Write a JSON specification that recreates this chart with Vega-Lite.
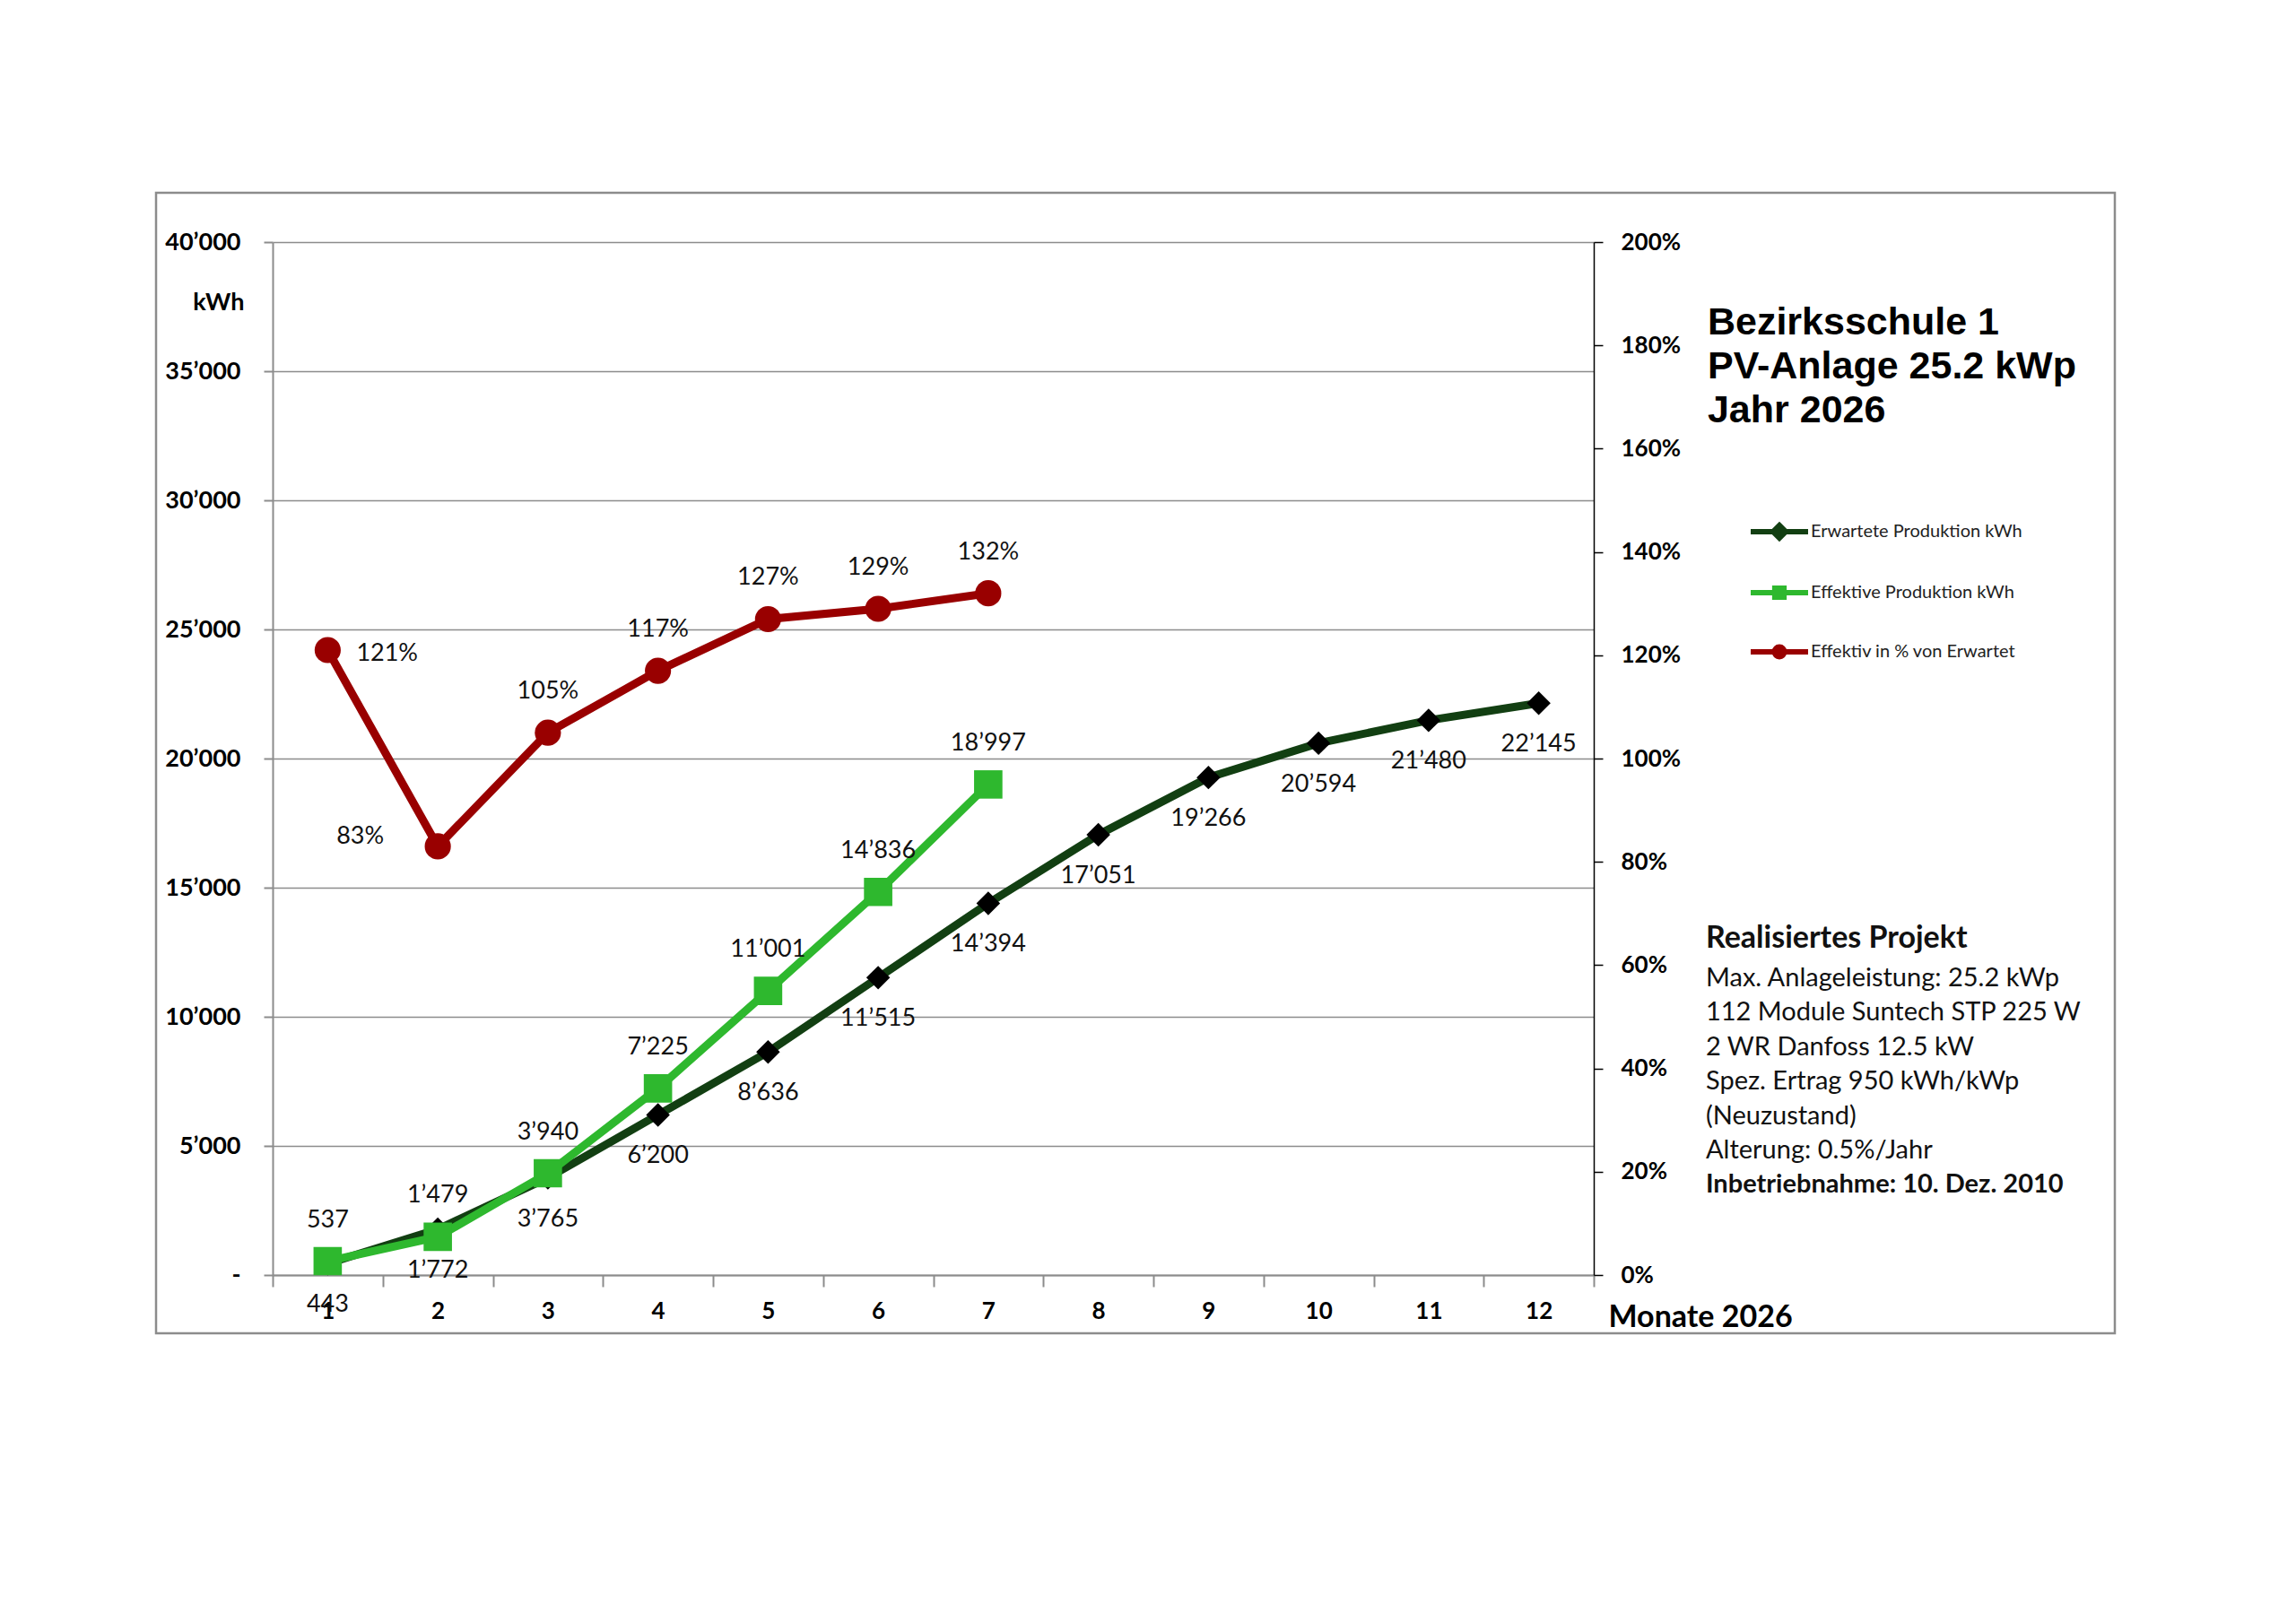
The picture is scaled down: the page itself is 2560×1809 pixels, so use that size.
{
  "$schema": "https://vega.github.io/schema/vega-lite/v6.json",
  "width": 1473,
  "height": 1152,
  "autosize": "none",
  "padding": {"left": 304, "top": 270, "right": 783, "bottom": 387},
  "background": "white",
  "config": {
    "view": {"stroke": null},
    "font": "Lato",
    "locale": {"number": {"decimal": ".", "thousands": "’", "grouping": [3], "currency": ["", ""]}}
  },
  "layer": [
    {
      "data": {"values": [{"frame": "chart"}]},
      "encoding": {
        "x": {"datum": 0, "type": "quantitative", "scale": {"domain": [0, 1], "range": [-130, 2054], "zero": false, "nice": false}, "axis": null},
        "y": {"datum": 0, "type": "quantitative", "scale": {"domain": [0, 1], "range": [-55, 1217], "zero": false, "nice": false}, "axis": null}
      },
      "layer": [
        {
          "mark": {"type": "rect", "filled": false, "color": "#8c8c8c", "strokeWidth": 2.5},
          "encoding": {"x2": {"datum": 1}, "y2": {"datum": 1}}
        },
        {
          "mark": {"type": "text", "align": "left", "baseline": "alphabetic", "font": "Liberation Sans", "fontWeight": "bold", "fontSize": 43, "lineHeight": 49, "color": "black"},
          "encoding": {
            "x": {"datum": 0.7921, "type": "quantitative"},
            "y": {"datum": 0.1242, "type": "quantitative"},
            "text": {"value": ["Bezirksschule 1", "PV-Anlage 25.2 kWp", "Jahr 2026"]}
          }
        },
        {
          "mark": {"type": "text", "align": "left", "baseline": "alphabetic", "fontWeight": "bold", "fontSize": 34, "color": "#111"},
          "encoding": {
            "x": {"datum": 0.7912, "type": "quantitative"},
            "y": {"datum": 0.6619, "type": "quantitative"},
            "text": {"value": "Realisiertes Projekt"}
          }
        },
        {
          "mark": {"type": "text", "align": "left", "baseline": "alphabetic", "fontSize": 29, "lineHeight": 38.4, "color": "#111"},
          "encoding": {
            "x": {"datum": 0.7912, "type": "quantitative"},
            "y": {"datum": 0.6958, "type": "quantitative"},
            "text": {"value": ["Max. Anlageleistung: 25.2 kWp", "112 Module Suntech STP 225 W", "2 WR Danfoss 12.5 kW", "Spez. Ertrag 950 kWh/kWp", "(Neuzustand)", "Alterung: 0.5%/Jahr"]}
          }
        },
        {
          "mark": {"type": "text", "align": "left", "baseline": "alphabetic", "fontWeight": "bold", "fontSize": 29, "color": "#111"},
          "encoding": {
            "x": {"datum": 0.7912, "type": "quantitative"},
            "y": {"datum": 0.8766, "type": "quantitative"},
            "text": {"value": "Inbetriebnahme: 10. Dez. 2010"}
          }
        }
      ]
    },
    {
      "data": {
        "values": [
          {"month": "1", "series": "Erwartete Produktion kWh", "kwh": 443},
          {"month": "2", "series": "Erwartete Produktion kWh", "kwh": 1772},
          {"month": "3", "series": "Erwartete Produktion kWh", "kwh": 3765},
          {"month": "4", "series": "Erwartete Produktion kWh", "kwh": 6200},
          {"month": "5", "series": "Erwartete Produktion kWh", "kwh": 8636},
          {"month": "6", "series": "Erwartete Produktion kWh", "kwh": 11515},
          {"month": "7", "series": "Erwartete Produktion kWh", "kwh": 14394},
          {"month": "8", "series": "Erwartete Produktion kWh", "kwh": 17051},
          {"month": "9", "series": "Erwartete Produktion kWh", "kwh": 19266},
          {"month": "10", "series": "Erwartete Produktion kWh", "kwh": 20594},
          {"month": "11", "series": "Erwartete Produktion kWh", "kwh": 21480},
          {"month": "12", "series": "Erwartete Produktion kWh", "kwh": 22145},
          {"month": "1", "series": "Effektive Produktion kWh", "kwh": 537},
          {"month": "2", "series": "Effektive Produktion kWh", "kwh": 1479},
          {"month": "3", "series": "Effektive Produktion kWh", "kwh": 3940},
          {"month": "4", "series": "Effektive Produktion kWh", "kwh": 7225},
          {"month": "5", "series": "Effektive Produktion kWh", "kwh": 11001},
          {"month": "6", "series": "Effektive Produktion kWh", "kwh": 14836},
          {"month": "7", "series": "Effektive Produktion kWh", "kwh": 18997},
          {"month": "1", "series": "Effektiv in % von Erwartet", "pct": 1.21},
          {"month": "2", "series": "Effektiv in % von Erwartet", "pct": 0.83},
          {"month": "3", "series": "Effektiv in % von Erwartet", "pct": 1.05},
          {"month": "4", "series": "Effektiv in % von Erwartet", "pct": 1.17},
          {"month": "5", "series": "Effektiv in % von Erwartet", "pct": 1.27},
          {"month": "6", "series": "Effektiv in % von Erwartet", "pct": 1.29},
          {"month": "7", "series": "Effektiv in % von Erwartet", "pct": 1.32}
        ]
      },
      "encoding": {
        "x": {
          "field": "month",
          "type": "ordinal",
          "bandPosition": 0.5,
          "scale": {"type": "band", "domain": ["1", "2", "3", "4", "5", "6", "7", "8", "9", "10", "11", "12"], "paddingInner": 0, "paddingOuter": 0},
          "axis": {
            "orient": "bottom",
            "tickBand": "extent",
            "grid": false,
            "domainColor": "#8c8c8c",
            "domainWidth": 2,
            "tickColor": "#8c8c8c",
            "tickWidth": 2,
            "tickSize": 13,
            "labelAngle": 0,
            "labelPadding": 14,
            "labelFont": "Lato",
            "labelFontSize": 26,
            "labelFontWeight": "bold",
            "labelColor": "black",
            "title": "Monate 2026",
            "titleX": 1489,
            "titleY": 57,
            "titleAlign": "left",
            "titleBaseline": "alphabetic",
            "titleFont": "Lato",
            "titleFontSize": 34,
            "titleFontWeight": "bold",
            "titleColor": "black"
          }
        }
      },
      "layer": [
        {
          "transform": [{"filter": "isValid(datum.kwh)"}],
          "encoding": {
            "y": {
              "field": "kwh",
              "type": "quantitative",
              "scale": {"domain": [0, 40000], "nice": false},
              "axis": {
                "orient": "left",
                "values": [0, 5000, 10000, 15000, 20000, 25000, 30000, 35000, 40000],
                "format": ",d",
                "labelExpr": "datum.value == 0 ? '-\u2007\u2007' : datum.label",
                "grid": true,
                "gridColor": "#8c8c8c",
                "gridWidth": 1.5,
                "domainColor": "#8c8c8c",
                "domainWidth": 2,
                "tickColor": "#8c8c8c",
                "tickWidth": 2,
                "tickSize": 10,
                "labelPadding": 26,
                "labelFont": "Lato",
                "labelFontSize": 27,
                "labelFontWeight": "bold",
                "labelColor": "black",
                "title": "kWh",
                "titleAngle": 0,
                "titleX": -32,
                "titleY": 67,
                "titleAlign": "right",
                "titleBaseline": "middle",
                "titleFont": "Lato",
                "titleFontSize": 27,
                "titleFontWeight": "bold",
                "titleColor": "black"
              }
            }
          },
          "layer": [
            {
              "transform": [{"filter": "datum.series == 'Erwartete Produktion kWh'"}],
              "mark": {"type": "line", "strokeWidth": 9},
              "encoding": {
                "color": {
                  "field": "series",
                  "type": "nominal",
                  "scale": {"domain": ["Erwartete Produktion kWh", "Effektive Produktion kWh", "Effektiv in % von Erwartet"], "range": ["#123f12", "#2eb82e", "#990000"]},
                  "legend": {
                    "orient": "none",
                    "legendX": 1645,
                    "legendY": 288,
                    "title": null,
                    "direction": "vertical",
                    "padding": 0,
                    "symbolSize": 4096,
                    "symbolStrokeWidth": 6,
                    "labelFont": "Lato",
                    "labelFontSize": 20,
                    "labelColor": "#222",
                    "labelOffset": 0,
                    "labelLimit": 500,
                    "rowPadding": 13,
                    "encode": {
                      "symbols": {
                        "update": {
                          "shape": {"signal": "datum.value === 'Erwartete Produktion kWh' ? 'M-1,0L1,0M0,-0.22L0.22,0L0,0.22L-0.22,0Z' : datum.value === 'Effektive Produktion kWh' ? 'M-1,0L1,0M-0.16,-0.16L0.16,-0.16L0.16,0.16L-0.16,0.16Z' : 'M-1,0L1,0M-0.17,0A0.17,0.17 0 1,0 0.17,0A0.17,0.17 0 1,0 -0.17,0Z'"},
                          "stroke": {"signal": "datum.value === 'Erwartete Produktion kWh' ? '#123f12' : datum.value === 'Effektive Produktion kWh' ? '#2eb82e' : '#990000'"},
                          "fill": {"signal": "datum.value === 'Erwartete Produktion kWh' ? '#123f12' : datum.value === 'Effektive Produktion kWh' ? '#2eb82e' : '#990000'"},
                          "strokeWidth": {"value": 6},
                          "opacity": {"value": 1}
                        }
                      }
                    }
                  }
                }
              }
            },
            {
              "transform": [{"filter": "datum.series == 'Erwartete Produktion kWh'"}],
              "mark": {"type": "point", "shape": "diamond", "filled": true, "size": 700, "color": "black", "opacity": 1}
            },
            {
              "transform": [{"filter": "datum.series == 'Effektive Produktion kWh'"}],
              "mark": {"type": "line", "strokeWidth": 9},
              "encoding": {"color": {"field": "series", "type": "nominal"}}
            },
            {
              "transform": [{"filter": "datum.series == 'Effektive Produktion kWh'"}],
              "mark": {"type": "point", "shape": "square", "filled": true, "size": 1000, "color": "#2eb82e", "opacity": 1}
            },
            {
              "transform": [{"filter": "datum.series == 'Erwartete Produktion kWh'"}],
              "mark": {"type": "text", "dy": 46, "baseline": "middle", "fontSize": 27, "color": "#111"},
              "encoding": {"text": {"field": "kwh", "type": "quantitative", "format": ",d"}}
            },
            {
              "transform": [{"filter": "datum.series == 'Effektive Produktion kWh'"}],
              "mark": {"type": "text", "dy": -46, "baseline": "middle", "fontSize": 27, "color": "#111"},
              "encoding": {"text": {"field": "kwh", "type": "quantitative", "format": ",d"}}
            }
          ]
        },
        {
          "transform": [{"filter": "isValid(datum.pct)"}],
          "encoding": {
            "y": {
              "field": "pct",
              "type": "quantitative",
              "scale": {"domain": [0, 2], "nice": false},
              "axis": {
                "orient": "right",
                "values": [0, 0.2, 0.4, 0.6, 0.8, 1, 1.2, 1.4, 1.6, 1.8, 2],
                "format": ".0%",
                "grid": false,
                "domainColor": "black",
                "domainWidth": 1.5,
                "tickColor": "black",
                "tickWidth": 1.5,
                "tickSize": 10,
                "labelPadding": 20,
                "labelFont": "Lato",
                "labelFontSize": 26,
                "labelFontWeight": "bold",
                "labelColor": "black",
                "title": null
              }
            }
          },
          "layer": [
            {
              "mark": {"type": "line", "strokeWidth": 9},
              "encoding": {"color": {"field": "series", "type": "nominal"}}
            },
            {
              "mark": {"type": "point", "shape": "circle", "filled": true, "size": 850, "color": "#990000", "opacity": 1}
            },
            {
              "transform": [{"filter": "datum.month == '1'"}],
              "mark": {"type": "text", "align": "left", "dx": 32, "dy": 4, "baseline": "middle", "fontSize": 27, "color": "#111"},
              "encoding": {"text": {"field": "pct", "type": "quantitative", "format": ".0%"}}
            },
            {
              "transform": [{"filter": "datum.month == '2'"}],
              "mark": {"type": "text", "align": "right", "dx": -60, "dy": -11, "baseline": "middle", "fontSize": 27, "color": "#111"},
              "encoding": {"text": {"field": "pct", "type": "quantitative", "format": ".0%"}}
            },
            {
              "transform": [{"filter": "datum.month != '1' && datum.month != '2'"}],
              "mark": {"type": "text", "dy": -46, "baseline": "middle", "fontSize": 27, "color": "#111"},
              "encoding": {"text": {"field": "pct", "type": "quantitative", "format": ".0%"}}
            }
          ]
        }
      ],
      "resolve": {"scale": {"y": "independent"}}
    }
  ],
  "resolve": {"scale": {"x": "independent", "y": "independent"}}
}
